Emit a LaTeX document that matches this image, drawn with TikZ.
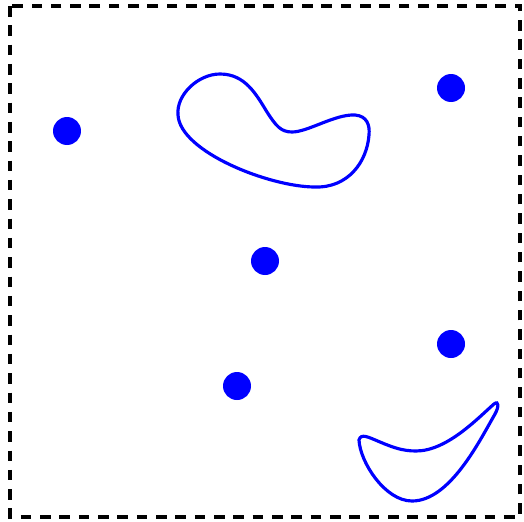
\documentclass[tikz,border=0pt]{standalone}
\usepackage{tikz}

\begin{document}
\begin{tikzpicture}[
  x=0.02cm, y=-0.02cm,
  frame/.style={draw, line width=2pt, dash pattern=on 6pt off 5pt},
  blob/.style={draw=blue, line width=1.8pt},
  dot/.style={circle, fill=blue, inner sep=0pt, minimum size=0.56cm}
]
\useasboundingbox (0,0) rectangle (524,521);
\draw[frame] (10,6) rectangle (520,517);

% points
\node[dot] (p1) at (67,131) {};
\node[dot] (p2) at (451,88) {};
\node[dot] (p3) at (265,261) {};
\node[dot] (p4) at (451,344) {};
\node[dot] (p5) at (237,386) {};

% regions
\draw[blob] (178,115) .. controls (176,95) and (198,74) .. (220,74)
  .. controls (245,74) and (256,94) .. (267,112)
  .. controls (276,126) and (281,132) .. (292,132)
  .. controls (308,132) and (335,114) .. (355,115)
  .. controls (367,116) and (370,125) .. (369,135)
  .. controls (367,162) and (348,188) .. (315,187)
  .. controls (270,187) and (180,152) .. cycle;
\draw[blob] (359,440) .. controls (361,433) and (368,437) .. (380,442)
  .. controls (392,447) and (402,451) .. (416,451)
  .. controls (447,451) and (478,418) .. (494,404)
  .. controls (499,400) and (499,407) .. (495,414)
  .. controls (480,440) and (450,501) .. (412,501)
  .. controls (385,501) and (360,462) .. cycle;

\end{tikzpicture}
\end{document}
